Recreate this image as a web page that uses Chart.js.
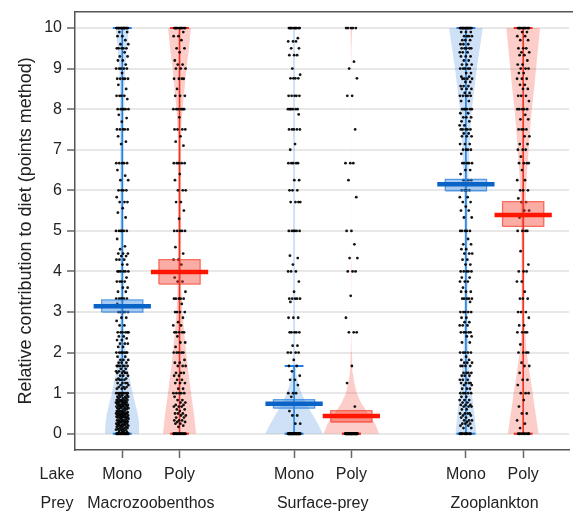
<!DOCTYPE html>
<html><head><meta charset="utf-8">
<script src="https://cdn.jsdelivr.net/npm/chart.js@4.4.1/dist/chart.umd.min.js"></script>
<style>html,body{margin:0;padding:0;background:#fff}</style>
</head><body>
<canvas id="c" width="573" height="511"></canvas>
<script>
// ---------------- DATA ----------------
const lakes = ['Mono', 'Poly', 'Mono', 'Poly', 'Mono', 'Poly'];
const preys = ['Macrozoobenthos', 'Surface-prey', 'Zooplankton'];
const groupPos = [1, 2, 4, 5, 7, 8];
const preyPos = [1.5, 4.5, 7.5];
const rowHeaders = ['Lake', 'Prey'];
const yTicks = [0, 1, 2, 3, 4, 5, 6, 7, 8, 9, 10];

// mean (thick bar) and inference band (box) per group
const means   = [3.14, 3.99, 0.74, 0.44, 6.15, 5.39];
const hdiLow  = [3.00, 3.69, 0.63, 0.29, 5.99, 5.11];
const hdiHigh = [3.30, 4.29, 0.84, 0.57, 6.27, 5.72];
// whisker range per group
const whiskerLow  = [0, 0, 0, 0, 0, 0];
const whiskerHigh = [10, 10, 1.67, 0, 10, 10];

// bean (density) levels and relative density per group
const beanLevels = [0,0.25,0.5,0.75,1,1.25,1.5,1.75,2,2.5,3,3.5,4,4.5,5,5.5,6,6.5,7,7.5,8,8.5,9,9.5,10];
const macroMonoBean = [17.5,17,15.5,13,10.5,8.5,6.5,5,3.5,2.3,2,1.8,1.8,1.7,1.6,1.6,1.6,1.6,1.6,1.7,1.8,2.2,3,4.7,6.5];
const macroPolyBean = [16.7,15.6,14.5,13,11.7,10.3,9,7.8,6.7,4.7,3,2,1.6,1.5,1.5,1.5,1.5,1.5,1.6,2,3,5,7,9.5,11.5];
const surfMonoBean  = [29,24,18,12,7.5,4,2.2,1.4,1.1,1,1,1,1,1,1,1,1,1,1,1,1,1,1,1,1.2];
const surfPolyBean  = [28,24,17,10,5.5,3,1.5,1,0.6,0.2,0,0,0.5,0,0,0,0,0,0,0,0,0,0,0.5,0.8];
const zooMonoBean   = [10.5,9.5,8.5,7.2,6,5,4,3.2,2.5,2,1.8,1.6,1.5,1.5,1.5,1.6,2,2.8,3.5,4.5,6,8.5,11,14,17];
const zooPolyBean   = [15.5,14,12.5,11,9.7,8,6.5,5,3.5,2,1.5,1.3,1.3,1.3,1.5,2,3,4,5.5,7,8.7,11,13,15,17];

// raw observations: [value, number of fish with that value]
const macroMonoPoints = [[10,14],[9.9,2],[9.8,2],[9.7,1],[9.6,2],[9.5,5],[9.4,1],[9.3,2],[9.2,2],[9.1,1],[9,5],[8.89,1],[8.75,5],[8.6,1],[8.5,1],[8.33,4],[8.25,1],[8,6],[7.86,1],[7.78,1],[7.69,1],[7.5,5],[7.33,1],[7.2,1],[7.14,1],[6.67,5],[6.5,1],[6.36,1],[6.25,2],[6,4],[5.83,1],[5.71,3],[5.56,1],[5.45,1],[5.33,1],[5,6],[4.8,1],[4.62,1],[4.55,1],[4.44,3],[4.38,2],[4.29,3],[4.17,2],[4,6],[3.85,1],[3.75,4],[3.6,2],[3.5,2],[3.33,6],[3.2,1],[3,5],[2.86,2],[2.78,1],[2.67,2],[2.5,6],[2.4,2],[2.35,1],[2.31,2],[2.22,3],[2.14,2],[2,7],[1.9,2],[1.82,3],[1.75,3],[1.67,6],[1.6,2],[1.54,3],[1.5,4],[1.43,3],[1.36,2],[1.33,4],[1.25,4],[1.2,2],[1.15,3],[1.11,3],[1,8],[0.95,3],[0.91,4],[0.87,3],[0.83,5],[0.8,4],[0.77,4],[0.74,3],[0.71,5],[0.67,6],[0.63,4],[0.6,3],[0.56,4],[0.53,3],[0.5,6],[0.47,3],[0.45,4],[0.42,4],[0.4,4],[0.37,3],[0.33,5],[0.3,4],[0.28,3],[0.25,4],[0.22,3],[0.2,4],[0.17,3],[0.14,3],[0.12,2],[0.1,3],[0.07,2],[0.05,2],[0,20]];
const macroPolyPoints = [[10,10],[9.9,1],[9.8,2],[9.7,1],[9.5,2],[9.4,1],[9.2,1],[9.1,2],[9,3],[8.75,4],[8.5,1],[8.33,3],[8,6],[7.8,1],[7.5,4],[7.33,1],[7.2,1],[7.1,1],[6.67,5],[6.4,1],[6.25,1],[6,3],[5.71,2],[5.5,1],[5.3,1],[5,5],[4.6,1],[4.44,1],[4.29,2],[4.17,1],[4,3],[3.85,1],[3.75,2],[3.5,1],[3.33,5],[3.2,1],[3,4],[2.86,1],[2.75,1],[2.67,2],[2.5,5],[2.4,1],[2.25,2],[2.14,1],[2,5],[1.82,1],[1.75,2],[1.67,3],[1.5,3],[1.43,2],[1.33,2],[1.25,3],[1.11,2],[1,5],[0.91,1],[0.83,2],[0.77,2],[0.71,2],[0.67,3],[0.6,2],[0.56,1],[0.5,3],[0.45,2],[0.4,2],[0.33,3],[0.29,2],[0.25,2],[0.2,1],[0.17,1],[0,14]];
const surfMonoPoints = [[10,10],[9.75,1],[9.67,3],[9.5,2],[9.33,3],[9,1],[8.85,1],[8.76,4],[8.33,5],[8,6],[7.87,1],[7.5,5],[7.14,1],[7,1],[6.67,5],[6.25,2],[6,3],[5.71,4],[5,6],[4.39,1],[4.33,1],[4.17,1],[4,3],[3.75,1],[3.5,1],[3.33,5],[3.25,1],[2.86,3],[2.5,5],[2.17,2],[2,4],[1.82,1],[1.67,2],[1.54,1],[1.43,1],[1.33,2],[1.2,1],[1,3],[0.91,1],[0.75,2],[0.56,1],[0.45,2],[0.25,2],[0,40]];
const surfPolyPoints = [[10,5],[9.17,1],[9,1],[8.76,1],[8.33,2],[7.5,1],[6.67,3],[6.25,1],[5.83,1],[5,2],[4.67,1],[4.33,2],[4,3],[3.4,1],[2.86,1],[2.5,3],[1.67,1],[1.25,1],[0.67,1],[0,40]];
const zooMonoPoints = [[10,15],[9.9,3],[9.8,4],[9.7,3],[9.6,3],[9.5,5],[9.4,3],[9.3,3],[9.2,2],[9.1,3],[9,5],[8.89,2],[8.8,2],[8.75,4],[8.67,2],[8.57,3],[8.5,3],[8.4,2],[8.33,5],[8.2,2],[8,6],[7.9,2],[7.8,3],[7.7,2],[7.6,2],[7.5,5],[7.4,2],[7.33,3],[7.14,3],[7,4],[6.9,1],[6.67,5],[6.5,2],[6.4,1],[6.25,3],[6,4],[5.83,2],[5.71,2],[5.6,1],[5.5,2],[5.33,2],[5,5],[4.8,1],[4.67,2],[4.55,2],[4.44,3],[4.29,2],[4.17,2],[4,5],[3.85,2],[3.75,3],[3.6,1],[3.5,3],[3.33,5],[3.25,1],[3,5],[2.86,2],[2.75,2],[2.67,3],[2.5,5],[2.4,2],[2.25,2],[2,5],[1.9,1],[1.82,2],[1.75,3],[1.67,4],[1.5,4],[1.43,3],[1.33,3],[1.25,4],[1.2,2],[1.11,3],[1,5],[0.91,2],[0.83,3],[0.77,2],[0.71,3],[0.67,3],[0.6,2],[0.5,4],[0.45,2],[0.4,2],[0.33,3],[0.29,1],[0.25,3],[0.2,2],[0.14,2],[0,10]];
const zooPolyPoints = [[10,10],[9.9,2],[9.8,2],[9.7,2],[9.5,3],[9.4,2],[9.33,2],[9.2,1],[9.1,2],[9,3],[8.89,2],[8.75,3],[8.6,2],[8.5,2],[8.33,3],[8.2,1],[8,5],[7.86,1],[7.75,2],[7.5,4],[7.33,2],[7.14,2],[7,3],[6.83,1],[6.67,4],[6.5,1],[6.25,2],[6,3],[5.8,1],[5.71,2],[5.5,2],[5.33,1],[5,4],[4.5,1],[4.17,1],[4,3],[3.75,2],[3.5,1],[3.33,3],[3,3],[2.86,1],[2.67,2],[2.5,4],[2.2,1],[2,4],[1.75,1],[1.67,2],[1.5,1],[1.33,2],[1.2,1],[1,3],[0.83,1],[0.67,1],[0.5,2],[0.33,1],[0.25,1],[0.14,1],[0,8]];

// ---------------- STYLE ----------------
const beans = [macroMonoBean, macroPolyBean, surfMonoBean, surfPolyBean, zooMonoBean, zooPolyBean];
const points = [macroMonoPoints, macroPolyPoints, surfMonoPoints, surfPolyPoints, zooMonoPoints, zooPolyPoints];
const PX_PER_X = 57.74;           // width conversion for bean density
const MEAN_HALF = 0.5, BOX_HALF = 0.36, CAP_HALF = 0.165, JITTER = 0.11;
const pal = {
  Mono: {bean:'rgba(30,120,220,0.22)', line:'#1f80e0', mean:'#0a63c6', boxFill:'rgba(45,130,220,0.42)', boxLine:'rgba(45,130,220,0.75)'},
  Poly: {bean:'rgba(245,40,20,0.23)', line:'#f3311f', mean:'#ff1600', boxFill:'rgba(245,60,40,0.42)', boxLine:'rgba(245,60,40,0.7)'}
};
const FONT = "'Liberation Sans', Arial, Helvetica, sans-serif";
const TXT = '#222';

const datasets = [];
groupPos.forEach((c, g) => {
  const col = pal[lakes[g]];
  // bean polygon
  const d = beans[g];
  const right = beanLevels.map((y, i) => ({x: c + d[i] / PX_PER_X, y}));
  const left = beanLevels.map((y, i) => ({x: c - d[i] / PX_PER_X, y})).reverse();
  datasets.push({type:'line', data: right.concat(left), fill:'shape', backgroundColor: col.bean,
    borderWidth:0, pointRadius:0, tension:0, order:10});
  // whisker
  if (whiskerHigh[g] > whiskerLow[g]) {
    datasets.push({type:'line', data:[{x:c, y:whiskerLow[g]}, {x:c, y:whiskerHigh[g]}], borderColor: col.line,
      borderWidth:1.6, pointRadius:0, fill:false, order:9});
  }
  [whiskerLow[g], whiskerHigh[g]].forEach(v => {
    datasets.push({type:'line', data:[{x:c - CAP_HALF, y:v}, {x:c + CAP_HALF, y:v}], borderColor: col.line,
      borderWidth:2, pointRadius:0, fill:false, order:9});
  });
  // jittered raw points
  const pts = [];
  let k = 0;
  points[g].forEach(([v, n]) => {
    for (let j = 0; j < n; j++) {
      k++;
      const off = ((k * 0.6180339887) % 1) * 2 - 1;
      pts.push({x: c + off * JITTER, y: v});
    }
  });
  datasets.push({type:'scatter', data: pts, backgroundColor:'rgba(0,0,0,0.92)', borderWidth:0,
    pointRadius:1.4, order:5});
  // inference box
  datasets.push({type:'line', data:[{x:c - BOX_HALF, y:hdiLow[g]}, {x:c + BOX_HALF, y:hdiLow[g]},
    {x:c + BOX_HALF, y:hdiHigh[g]}, {x:c - BOX_HALF, y:hdiHigh[g]}, {x:c - BOX_HALF, y:hdiLow[g]}],
    fill:'shape', backgroundColor: col.boxFill, borderColor: col.boxLine, borderWidth:1.3, pointRadius:0, order:3});
  // mean line
  datasets.push({type:'line', data:[{x:c - MEAN_HALF, y:means[g]}, {x:c + MEAN_HALF, y:means[g]}],
    borderColor: col.mean, borderWidth:4.5, borderCapStyle:'butt', pointRadius:0, fill:false, order:1});
});

const ROW_HEADER_X = -0.14;

const framePlugin = {
  id: 'frame',
  afterDraw(chart) {
    const {ctx, chartArea} = chart;
    ctx.save();
    ctx.strokeStyle = '#555';
    ctx.lineWidth = 1.5;
    ctx.beginPath();
    ctx.moveTo(chartArea.left - 0.75, chartArea.top);
    ctx.lineTo(chart.width, chartArea.top);
    ctx.stroke();
    ctx.restore();
  }
};

Chart.defaults.font.family = FONT;
Chart.defaults.color = TXT;

new Chart(document.getElementById('c'), {
  type: 'scatter',
  data: {datasets},
  options: {
    responsive: false,
    animation: false,
    events: [],
    devicePixelRatio: 1,
    layout: {padding: {top: 11.8, right: 0, bottom: 0, left: 0}},
    plugins: {legend: {display: false}, tooltip: {enabled: false}},
    scales: {
      x: {
        type: 'linear', position: 'bottom', min: 0.175, max: 8.8, weight: 0,
        afterBuildTicks: s => { s.ticks = [{value: ROW_HEADER_X}].concat(groupPos.map(v => ({value: v}))); },
        afterFit: s => { s.height = 32; s.paddingLeft = 0; s.paddingRight = 0; },
        ticks: {autoSkip: false, maxRotation: 0, padding: 7, font: {size: 16}, color: TXT,
          callback: (v, i) => i === 0 ? rowHeaders[0] : lakes[i - 1]},
        grid: {drawOnChartArea: false, drawTicks: true, tickLength: 8, tickWidth: 1.5,
          tickColor: ctx => (ctx.tick && ctx.tick.value < 0.5) ? 'rgba(0,0,0,0)' : '#666'},
        border: {display: true, color: '#555', width: 1.5}
      },
      x2: {
        type: 'linear', position: 'bottom', min: 0.175, max: 8.8, weight: 1,
        afterBuildTicks: s => { s.ticks = [{value: ROW_HEADER_X}].concat(preyPos.map(v => ({value: v}))); },
        afterFit: s => { s.height = 29; s.paddingLeft = 0; s.paddingRight = 0; },
        ticks: {autoSkip: false, maxRotation: 0, padding: 12, font: {size: 16}, color: TXT,
          callback: (v, i) => i === 0 ? rowHeaders[1] : preys[i - 1]},
        grid: {display: false, drawTicks: false},
        border: {display: false}
      },
      y: {
        type: 'linear', position: 'left', min: -0.4, max: 10.4,
        afterBuildTicks: s => { s.ticks = yTicks.map(v => ({value: v})); },
        afterFit: s => { s.width = 75; s.paddingTop = 0; s.paddingBottom = 0; },
        ticks: {font: {size: 16}, color: TXT, padding: 5, callback: v => String(v)},
        grid: {color: '#e8e8e8', lineWidth: 2, tickColor: '#666', tickLength: 8, tickWidth: 1.5},
        border: {display: true, color: '#555', width: 1.5},
        title: {display: true, text: 'Relative contribution to diet (points method)', font: {size: 18},
          color: TXT, padding: {top: 15, bottom: 0}}
      }
    }
  },
  plugins: [framePlugin]
});
</script>
</body></html>
